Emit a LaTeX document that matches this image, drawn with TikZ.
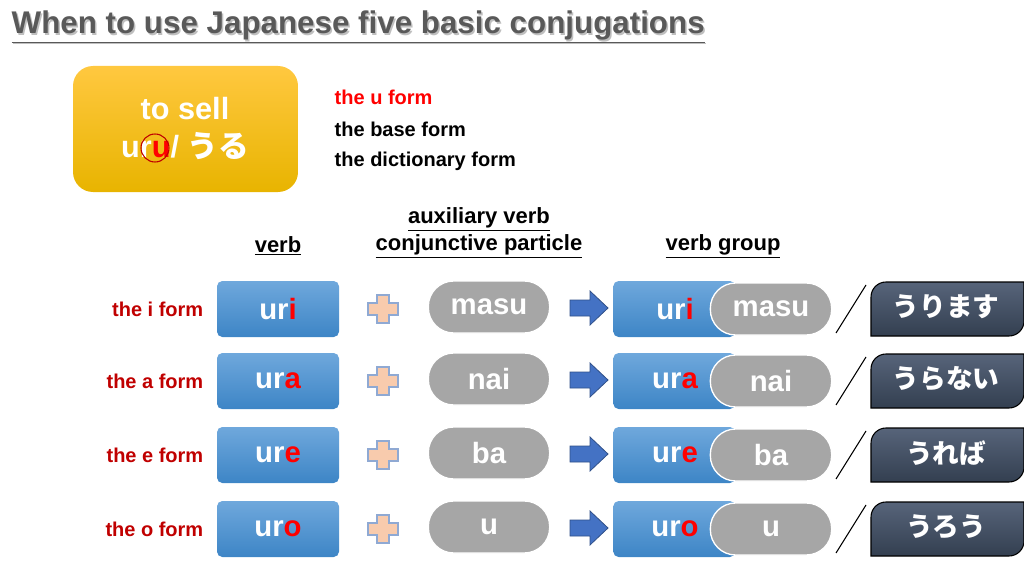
\documentclass[tikz,border=0pt]{standalone}
\usepackage{fontspec}
\setmainfont{Liberation Sans}
\newfontfamily\jp{Noto Sans CJK JP}
\definecolor{bluetop}{HTML}{6FA8DC}
\definecolor{bluebot}{HTML}{3D85C6}
\definecolor{graybox}{HTML}{A6A6A6}
\definecolor{darktop}{HTML}{57647A}
\definecolor{darkbot}{HTML}{333F50}
\definecolor{plusfill}{HTML}{F8CBAD}
\definecolor{pluslin}{HTML}{8FA9D3}
\definecolor{darkred}{HTML}{C00000}
\definecolor{arrowblue}{HTML}{4472C4}
\definecolor{orangetop}{HTML}{FFC840}
\definecolor{orangebot}{HTML}{E8B400}
\begin{document}
\begin{tikzpicture}[x=0.75pt,y=-0.75pt,
  verbbox/.style={rounded corners=4pt,top color=bluetop,bottom color=bluebot,draw=none,minimum width=91.5pt,minimum height=42pt,text=white,font=\bfseries\fontsize{22}{24}\selectfont},
  pill/.style={rounded corners=19pt,fill=graybox,draw=white,line width=1pt,minimum width=91pt,minimum height=39pt,text=white,font=\bfseries\fontsize{22}{24}\selectfont},
  flbl/.style={anchor=east,text=darkred,font=\bfseries\fontsize{15}{17}\selectfont},
  hdr/.style={font=\bfseries\fontsize{16.5}{18}\selectfont},
  jpbox/.style={text=white,font=\jp\bfseries\fontsize{20}{22}\selectfont}]
\useasboundingbox (0,0) rectangle (1024,567);
% title
\node[anchor=west,font=\bfseries\fontsize{23.5}{26}\selectfont] (titleshadow) at (8.5,28.5) {\textcolor{black!25}{\underline{When to use Japanese five basic conjugations}}};
\node[anchor=west,text=black!65,font=\bfseries\fontsize{23.5}{26}\selectfont] (title) at (7,27) {\underline{When to use Japanese five basic conjugations}};
% orange box
\draw[rounded corners=15pt,top color=orangetop,bottom color=orangebot,draw=none] (73,66) rectangle (298,192);
\node[text=white,font=\bfseries\fontsize{23}{26}\selectfont] (sell) at (185,109) {to sell};
\node[text=white,font=\bfseries\fontsize{23}{26}\selectfont] (uru) at (185,146) {ur\textcolor{red}{u}/ {\jp うる}};
\draw[red!75!black,line width=0.8pt] (155,148) circle (14);
\node[anchor=west,text=red,font=\bfseries\fontsize{15}{17}\selectfont] (uf) at (330,97) {the u form};
\node[anchor=west,font=\bfseries\fontsize{15}{17}\selectfont] (bf) at (330,129) {the base form};
\node[anchor=west,font=\bfseries\fontsize{15}{17}\selectfont] (df) at (330,161) {the dictionary form};
% headers
\node[hdr] (h1) at (278,246) {\underline{verb}};
\node[hdr] (h2) at (479,219) {\underline{auxiliary verb}};
\node[hdr] (h3) at (479,246) {\underline{conjunctive particle}};
\node[hdr] (h4) at (723,246) {\underline{verb group}};
% rows
\foreach \y/\f/\e/\a/\j [count=\i] in {309/i/i/masu/うります,381/a/a/nai/うらない,455/e/e/ba/うれば,529/o/o/u/うろう}{
  \node[flbl] (lab\i) at (208,\y) {the \f\ form};
  \node[verbbox] (v\i) at (278,\y) {ur\textcolor{red}{\e}};
  \draw[fill=plusfill,draw=pluslin,line width=0.8pt]
    (377,\y-14)--(389,\y-14)--(389,\y-6)--(398,\y-6)--(398,\y+6)--(389,\y+6)--(389,\y+14)--(377,\y+14)--(377,\y+6)--(368,\y+6)--(368,\y-6)--(377,\y-6)--cycle;
  \node[pill] (p\i) at (489,\y-2) {\a};
  \draw[fill=arrowblue,draw=arrowblue!70!black,line width=0.6pt]
    (570,\y-9)--(590,\y-9)--(590,\y-18)--(608,\y-1)--(590,\y+16)--(590,\y+7)--(570,\y+7)--cycle;
  \node[verbbox,anchor=west] (g\i) at (613,\y) {};
  \node[text=white,font=\bfseries\fontsize{22}{24}\selectfont] (gt\i) at (675,\y) {ur\textcolor{red}{\e}};
  \node[pill] (q\i) at (771,\y) {\a};
  \draw[line width=0.8pt] (836,\y+24) -- (866,\y-24);
  \draw[top color=darktop,bottom color=darkbot,draw=black,line width=0.8pt]
    (871,\y+27) -- (871,\y-12) arc[start angle=180,end angle=270,radius=15] -- (1024,\y-27) -- (1024,\y+12) arc[start angle=0,end angle=90,radius=15] -- cycle;
  \node[jpbox] (j\i) at (946,\y-2) {\j};
}
\end{tikzpicture}
\end{document}
